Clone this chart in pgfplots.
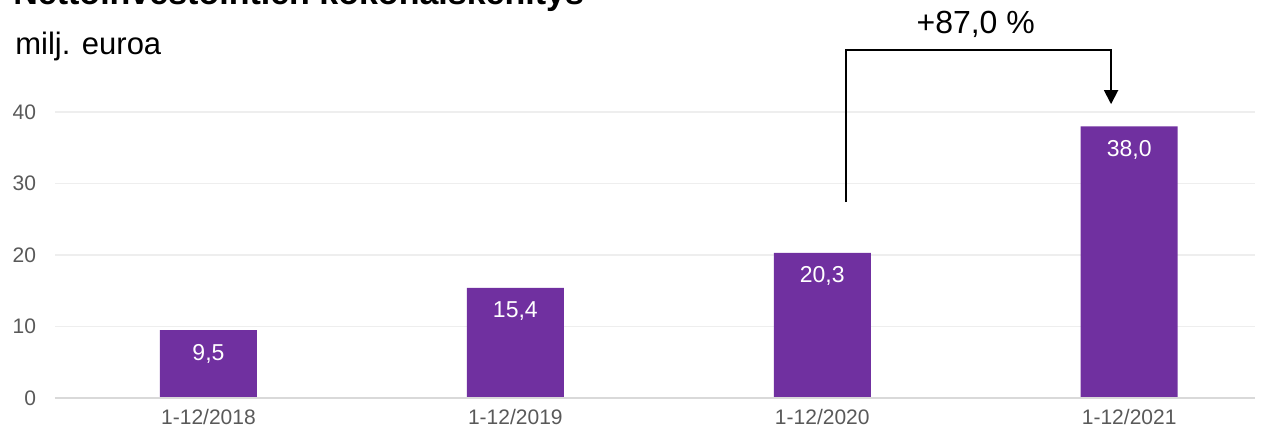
\documentclass[border=0pt]{standalone}
\usepackage{pgfplots}
\pgfplotsset{compat=1.18}
\usepackage{fontspec}
\setmainfont{Liberation Sans}
\usetikzlibrary{arrows.meta}
\definecolor{barpurple}{HTML}{7030A0}
\definecolor{ticktext}{HTML}{595959}
\definecolor{gridgray}{HTML}{EEEEEE}
\definecolor{basegray}{HTML}{D9D9D9}
\begin{document}
\begin{tikzpicture}
\useasboundingbox (0,0) rectangle (634.5pt,217.5pt);
\node[anchor=base west, font=\bfseries\fontsize{17}{19}\selectfont, inner sep=0] at (6.5pt,215pt) {Nettoinvestointien kokonaiskehitys};
\node[anchor=base west, font=\fontsize{15.5}{17}\selectfont, inner sep=0] at (7.5pt,190pt) {milj. euroa};
\begin{axis}[
  at={(27.5pt,18.5pt)}, anchor=south west,
  scale only axis, width=600pt, height=143pt,
  xmin=-0.5, xmax=3.41, ymin=0, ymax=40,
  axis line style={draw=none},
  ytick={0,10,20,30,40},
  xtick=data,
  xticklabels={1-12/2018,1-12/2019,1-12/2020,1-12/2021},
  major tick length=0pt,
  ymajorgrids, grid style={gridgray, line width=0.8pt},
  tick label style={text=ticktext, font=\fontsize{10.5}{12}\selectfont},
  yticklabel style={xshift=-6pt},
  xticklabel style={yshift=-2pt},
  /pgf/number format/assume math mode=true,
  clip=false,
]
\addplot[ybar, bar width=48.5pt, fill=barpurple, draw=none,
  nodes near coords,
  nodes near coords style={text=white, anchor=north, yshift=-3.5pt, font=\fontsize{11.5}{13}\selectfont,
    /pgf/number format/.cd, use comma, fixed, fixed zerofill, precision=1, assume math mode=true},
] coordinates {(0,9.5) (1,15.4) (2,20.3) (3,38.0)};
\draw[basegray, line width=1pt] (axis cs:-0.5,0) -- (axis cs:3.41,0);
\draw[black, line width=0.9pt, -{Triangle[length=7pt,width=7pt]}]
  (axis cs:2.078,27.4) -- (axis cs:2.078,48.7) -- (axis cs:2.941,48.7) -- (axis cs:2.941,41.1);
\node[anchor=base, font=\fontsize{16}{18}\selectfont] at (axis cs:2.50,51.0) {+87,0 \%};
\end{axis}
\end{tikzpicture}
\end{document}
